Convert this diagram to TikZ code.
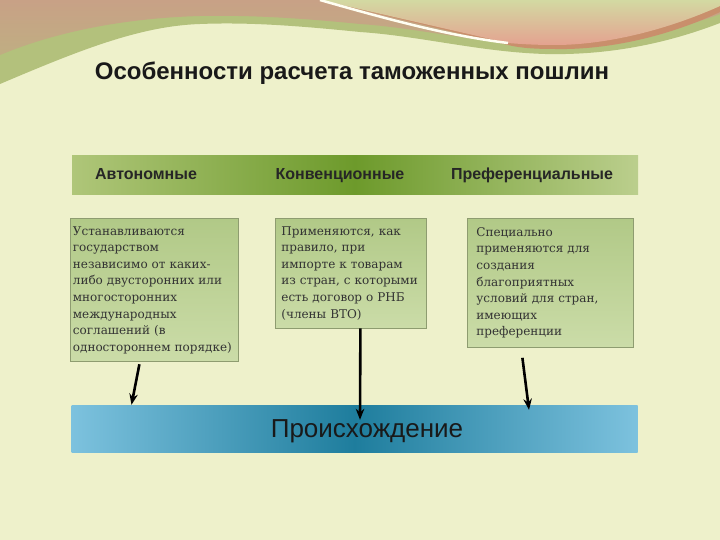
\documentclass[tikz,border=0pt]{standalone}
\usepackage{fontspec}
\setmainfont{Liberation Sans}
\newfontfamily\boxfont{DejaVu Serif}
\usetikzlibrary{arrows.meta,positioning}
\definecolor{bgcream}{HTML}{EEF1CB}
\definecolor{topbrown}{HTML}{C8A186}
\definecolor{topgreen}{HTML}{B3C17C}
\definecolor{swtop}{HTML}{D3D9A2}
\definecolor{swpink}{HTML}{E4A290}
\definecolor{swband}{HTML}{C98F6C}
\definecolor{headlight}{HTML}{AFC679}
\definecolor{headdark}{HTML}{6D9A2B}
\definecolor{boxtop}{HTML}{B1C987}
\definecolor{boxbot}{HTML}{CBDCA8}
\definecolor{boxline}{HTML}{8E9C70}
\definecolor{barlight}{HTML}{7DC2DE}
\definecolor{bardark}{HTML}{1E7D9D}
\tikzset{
  headtext/.style={font=\bfseries\fontsize{16}{18}\selectfont, text=black!85, text height=12pt, text depth=3pt},
  infobox/.style={draw=boxline, line width=0.8pt, top color=boxtop, bottom color=boxbot,
    align=left, anchor=north west, inner ysep=8pt,
    font=\boxfont\fontsize{12}{16.6}\selectfont, text=black!80},
  linkarrow/.style={line width=2.6pt, -{Stealth[length=11pt,width=8.5pt]}}
}
\begin{document}
\begin{tikzpicture}[x=1pt,y=-1pt]
\useasboundingbox (0,0) rectangle (720,540);
%background
\fill[bgcream] (0,0) rectangle (720,540);
%top waves
\fill[topgreen] (0,0) -- (720,0) -- (720,23)
  .. controls (650,50) and (590,55) .. (545,54)
  .. controls (480,52) and (420,36) .. (360,32)
  .. controls (300,26) and (250,22) .. (200,24)
  .. controls (140,26) and (80,50) .. (0,84) -- cycle;
\shade[top color=topbrown, bottom color=topbrown!60!topgreen] (0,0) -- (720,0) -- (720,14)
  .. controls (650,40) and (590,46) .. (545,45)
  .. controls (480,44) and (420,28) .. (360,24)
  .. controls (300,18) and (250,15) .. (200,16)
  .. controls (130,18) and (60,30) .. (0,55) -- cycle;
\fill[swband] (320,0) -- (720,0) -- (720,12) .. controls (660,40) and (600,50) .. (555,49)
  .. controls (535,49) and (520,48) .. (508,45) -- cycle;
\shade[top color=swtop, bottom color=swpink] (320,0) -- (720,0) -- (720,6)
  .. controls (660,33) and (600,45) .. (555,45)
  .. controls (535,45) and (520,44) .. (508,43) -- cycle;
\draw[white!95!yellow, line width=2.5pt] (320,0) .. controls (390,20) and (450,36) .. (508,43);
%title
\node[font=\bfseries\fontsize{24}{28}\selectfont, text=black!90] (title) at (352,73) {Особенности расчета таможенных пошлин};
%header bar
\shade[left color=headlight, right color=headlight!85!white, middle color=headdark] (72,156) rectangle (638,195);
\node[headtext] (hauto) at (146,175) {Автономные};
\node[headtext] (hconv) at (340,175) {Конвенционные};
\node[headtext] (hpref) at (532,175) {Преференциальные};
%boxes
\node[infobox, inner xsep=2.5pt, text width=163pt] (auto) at (70,218) {Устанавливаются\\государством\\независимо от каких-\\либо двусторонних или\\многосторонних\\международных\\соглашений (в\\одностороннем порядке)};
\node[infobox, inner xsep=6pt, text width=139pt] (conv) at (275,218) {Применяются, как\\правило, при\\импорте к товарам\\из стран, с которыми\\есть договор о РНБ\\(члены ВТО)};
\node[infobox, inner xsep=9pt, text width=148pt, inner ysep=9pt] (pref) at (467,218) {Специально\\применяются для\\создания\\благоприятных\\условий для стран,\\имеющих\\преференции};
%origin bar
\node[minimum width=566pt, minimum height=47pt, inner sep=0pt, left color=barlight, right color=barlight, middle color=bardark] (originbar) at (354.5,428.5) {};
\node[font=\fontsize{26}{28}\selectfont, text=black!90] (origin) at (367,431) {Происхождение};
%arrows
\draw[linkarrow] ([xshift=-15pt,yshift=-2pt]auto.south) -- ([xshift=-223pt]originbar.north);
\draw[linkarrow] ([xshift=9.5pt]conv.south) -- ([xshift=5.5pt,yshift=-15pt]originbar.north);
\draw[linkarrow] ([xshift=-28pt,yshift=-10pt]pref.south) -- ([xshift=174.5pt,yshift=-5pt]originbar.north);
\end{tikzpicture}
\end{document}
